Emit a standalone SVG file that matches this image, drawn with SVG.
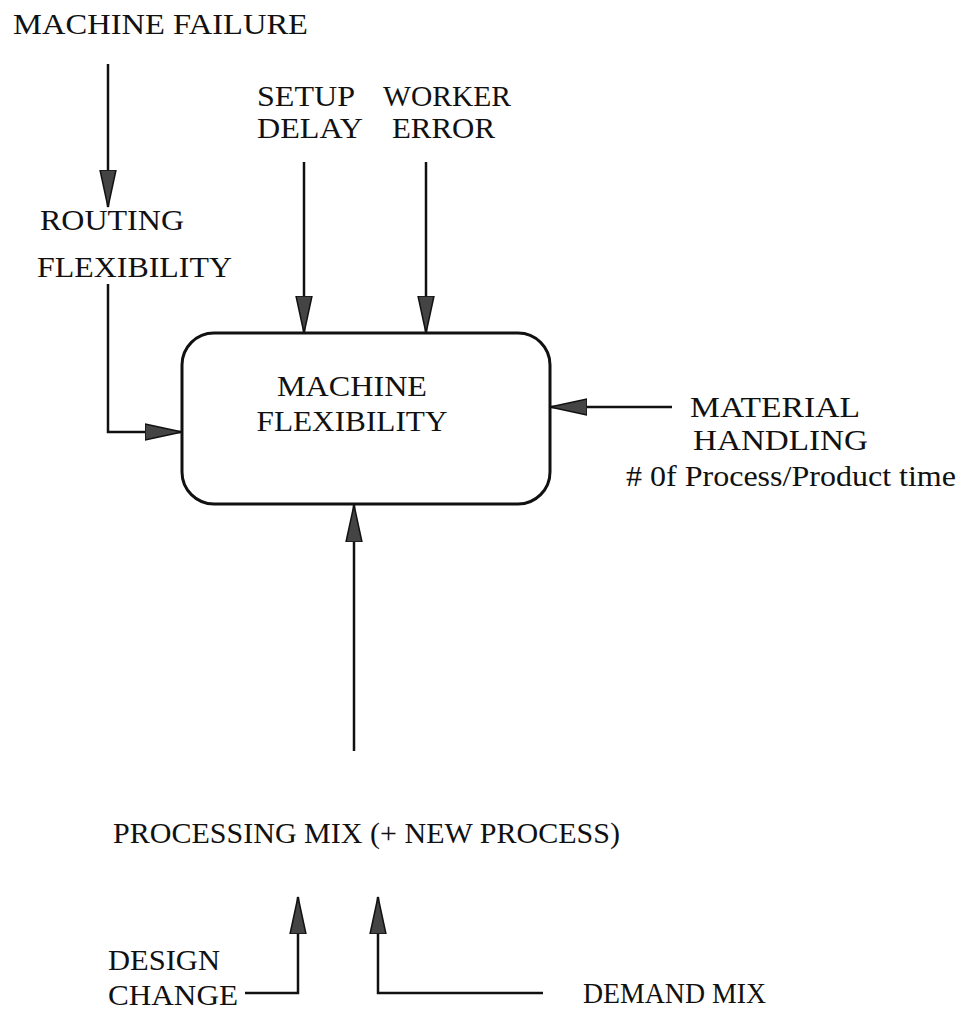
<svg xmlns="http://www.w3.org/2000/svg" width="970" height="1023" viewBox="0 0 970 1023">
<style>
text{font-family:"Liberation Serif","Times New Roman",serif;font-size:29px;fill:#111}
.ln{stroke:#111;stroke-width:2.5;fill:none}
.box{stroke:#111;stroke-width:3;fill:#fff}
</style>
<defs>
<marker id="ah" viewBox="0 0 38 18" refX="37" refY="9" markerWidth="38" markerHeight="18" markerUnits="userSpaceOnUse" orient="auto">
<path d="M0,1 L37,9 L0,17 Z" fill="#444" stroke="#111" stroke-width="1.5"/>
</marker>
</defs>
<rect width="970" height="1023" fill="#fff"/>
<g id="connectors">
<path class="ln" d="M108,64 V207" marker-end="url(#ah)"/>
<path class="ln" d="M304,162 V333" marker-end="url(#ah)"/>
<path class="ln" d="M426,162 V333" marker-end="url(#ah)"/>
<path class="ln" d="M108,284 V432 H182" marker-end="url(#ah)"/>
<path class="ln" d="M672,407 H550" marker-end="url(#ah)"/>
<path class="ln" d="M354,751 V505" marker-end="url(#ah)"/>
<path class="ln" d="M245,993 H298 V897" marker-end="url(#ah)"/>
<path class="ln" d="M543,993 H378 V897" marker-end="url(#ah)"/>
</g>
<g id="machine-flexibility">
<rect class="box" x="182" y="333" width="368" height="171" rx="32"/>
<text x="352" y="396" text-anchor="middle" textLength="150" lengthAdjust="spacingAndGlyphs">MACHINE</text>
<text x="352" y="431" text-anchor="middle" textLength="191" lengthAdjust="spacingAndGlyphs">FLEXIBILITY</text>
</g>
<g id="machine-failure"><text x="13" y="34" textLength="295" lengthAdjust="spacingAndGlyphs">MACHINE FAILURE</text></g>
<g id="routing-flexibility">
<text x="40" y="230" textLength="144" lengthAdjust="spacingAndGlyphs">ROUTING</text>
<text x="37" y="277" textLength="195" lengthAdjust="spacingAndGlyphs">FLEXIBILITY</text>
</g>
<g id="setup-delay">
<text x="257" y="106" textLength="98" lengthAdjust="spacingAndGlyphs">SETUP</text>
<text x="257" y="138" textLength="106" lengthAdjust="spacingAndGlyphs">DELAY</text>
</g>
<g id="worker-error">
<text x="383" y="106" textLength="128" lengthAdjust="spacingAndGlyphs">WORKER</text>
<text x="392" y="138" textLength="103" lengthAdjust="spacingAndGlyphs">ERROR</text>
</g>
<g id="material-handling">
<text x="690" y="417" textLength="170" lengthAdjust="spacingAndGlyphs">MATERIAL</text>
<text x="693" y="450" textLength="175" lengthAdjust="spacingAndGlyphs">HANDLING</text>
<text x="626" y="486" textLength="330" lengthAdjust="spacingAndGlyphs">#  0f Process/Product time</text>
</g>
<g id="processing-mix"><text x="113" y="843" textLength="507" lengthAdjust="spacingAndGlyphs">PROCESSING MIX (+ NEW PROCESS)</text></g>
<g id="design-change">
<text x="108" y="970" textLength="112" lengthAdjust="spacingAndGlyphs">DESIGN</text>
<text x="108" y="1005" textLength="130" lengthAdjust="spacingAndGlyphs">CHANGE</text>
</g>
<g id="demand-mix"><text x="583" y="1003" textLength="183" lengthAdjust="spacingAndGlyphs">DEMAND MIX</text></g>
</svg>
